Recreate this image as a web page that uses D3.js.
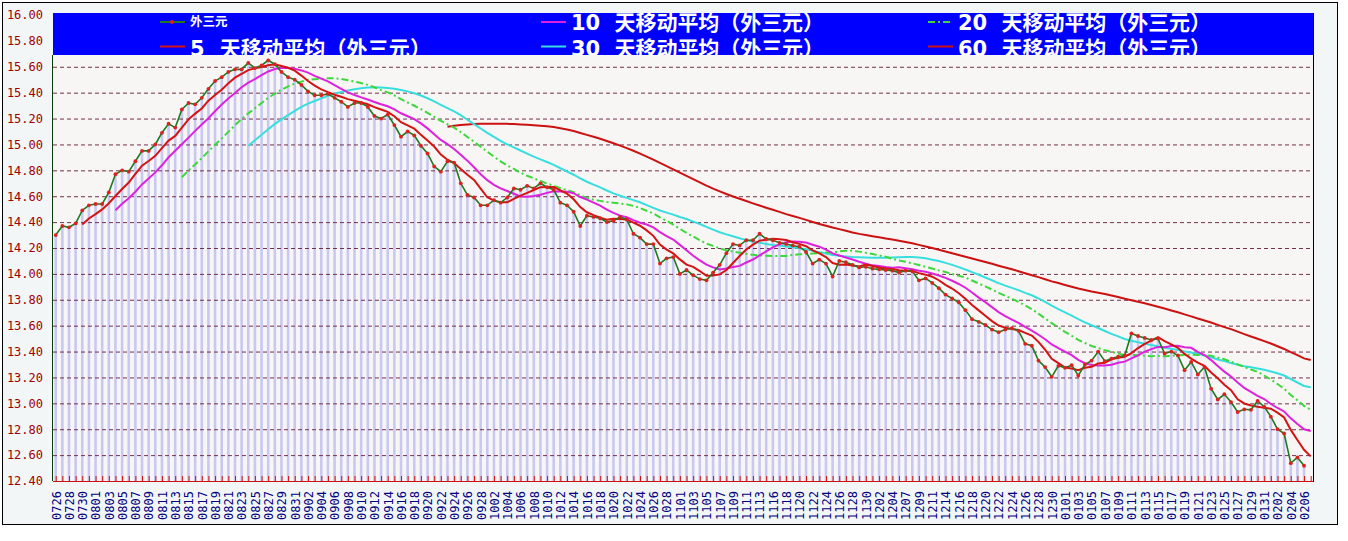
<!DOCTYPE html>
<html>
<head>
<meta charset="utf-8">
<script src="https://cdn.jsdelivr.net/npm/d3@7"></script>
<style>
  body { margin: 0; background: #fff; }
  svg { display: block; }
</style>
</head>
<body>
<svg id="chart" width="1348" height="541"></svg>
<script>
// ---- data ----
const categories = [
  '0726','0727','0728','0729','0730','0731','0801','0802','0803','0804',
  '0805','0806','0807','0808','0809','0810','0811','0812','0813','0814',
  '0815','0816','0817','0818','0819','0820','0821','0822','0823','0824',
  '0825','0826','0827','0828','0829','0830','0831','0901','0902','0903',
  '0904','0905','0906','0907','0908','0909','0910','0911','0912','0913',
  '0914','0915','0916','0917','0918','0919','0920','0921','0922','0923',
  '0924','0925','0926','0927','0928','0930','1002','1003','1004','1005',
  '1006','1007','1008','1009','1010','1011','1012','1013','1014','1015',
  '1016','1017','1018','1019','1020','1021','1022','1023','1024','1025',
  '1026','1027','1028','1030','1101','1102','1103','1104','1105','1106',
  '1107','1108','1109','1110','1111','1112','1113','1115','1116','1117',
  '1118','1119','1120','1121','1122','1123','1124','1125','1126','1127',
  '1128','1129','1130','1201','1202','1203','1204','1206','1207','1208',
  '1209','1210','1211','1212','1214','1215','1216','1217','1218','1219',
  '1220','1221','1222','1223','1224','1225','1226','1227','1228','1229',
  '1230','1231','0101','0102','0103','0104','0105','0106','0107','0108',
  '0109','0110','0111','0112','0113','0114','0115','0116','0117','0118',
  '0119','0120','0121','0122','0123','0124','0125','0126','0127','0128',
  '0129','0130','0131','0201','0202','0203','0204','0205','0206','0207'
];

// 外三元 daily price (last category has no price point)
const price = [
  14.30, 14.37, 14.36, 14.39, 14.49, 14.53, 14.54, 14.54, 14.63, 14.77,
  14.80, 14.79, 14.87, 14.95, 14.95, 15.00, 15.09, 15.16, 15.13, 15.27,
  15.32, 15.31, 15.36, 15.43, 15.49, 15.52, 15.56, 15.58, 15.58, 15.63,
  15.59, 15.61, 15.65, 15.62, 15.56, 15.52, 15.50, 15.46, 15.41, 15.38,
  15.38, 15.39, 15.36, 15.33, 15.29, 15.32, 15.32, 15.29, 15.22, 15.20,
  15.23, 15.15, 15.06, 15.10, 15.07, 14.99, 14.93, 14.83, 14.79, 14.87,
  14.86, 14.70, 14.61, 14.59, 14.53, 14.53, 14.57, 14.55, 14.59, 14.66,
  14.65, 14.68, 14.66, 14.70, 14.67, 14.65, 14.55, 14.53, 14.48, 14.37,
  14.45, 14.44, 14.43, 14.40, 14.41, 14.44, 14.42, 14.31, 14.28, 14.23,
  14.23, 14.08, 14.12, 14.13, 14.00, 14.03, 13.99, 13.96, 13.95, 14.01,
  14.07, 14.16, 14.23, 14.22, 14.26, 14.26, 14.31, 14.27, 14.26, 14.24,
  14.23, 14.22, 14.21, 14.17, 14.08, 14.11, 14.08, 13.98, 14.10, 14.09,
  14.07, 14.05, 14.055, 14.04, 14.035, 14.03, 14.025, 14.01, 14.025, 14.02,
  13.95, 13.965, 13.93, 13.89, 13.84, 13.81, 13.78, 13.72, 13.65, 13.63,
  13.605, 13.57, 13.55, 13.57, 13.58, 13.56, 13.46, 13.445, 13.33, 13.28,
  13.205, 13.29, 13.275, 13.295, 13.215, 13.30, 13.33, 13.40, 13.326, 13.346,
  13.36, 13.37, 13.54, 13.52, 13.505, 13.49, 13.50, 13.385, 13.40, 13.37,
  13.256, 13.32, 13.223, 13.28, 13.113, 13.03, 13.07, 13.01, 12.933, 12.954,
  12.95, 13.018, 12.974, 12.897, 12.80, 12.767, 12.538, 12.582, 12.518, null
];

// moving-average lines, each starting at the category index given
const ma5Start = 4;
const ma5 = [
  14.382, 14.428, 14.462, 14.498, 14.546, 14.602, 14.656, 14.706, 14.772, 14.836,
  14.872, 14.912, 14.972, 15.030, 15.066, 15.130, 15.194, 15.238, 15.278, 15.338,
  15.382, 15.422, 15.472, 15.516, 15.546, 15.574, 15.588, 15.598, 15.612, 15.620,
  15.606, 15.592, 15.570, 15.532, 15.490, 15.454, 15.426, 15.404, 15.384, 15.368,
  15.350, 15.338, 15.324, 15.310, 15.288, 15.270, 15.252, 15.218, 15.172, 15.148,
  15.122, 15.074, 15.030, 14.984, 14.922, 14.882, 14.856, 14.810, 14.766, 14.726,
  14.658, 14.592, 14.566, 14.554, 14.554, 14.580, 14.604, 14.626, 14.648, 14.670,
  14.672, 14.672, 14.646, 14.620, 14.576, 14.516, 14.476, 14.454, 14.434, 14.418,
  14.426, 14.424, 14.420, 14.396, 14.372, 14.336, 14.294, 14.226, 14.188, 14.158,
  14.112, 14.072, 14.054, 14.022, 13.986, 13.988, 13.996, 14.030, 14.084, 14.138,
  14.188, 14.226, 14.256, 14.264, 14.272, 14.268, 14.262, 14.244, 14.232, 14.214,
  14.182, 14.158, 14.130, 14.084, 14.070, 14.072, 14.064, 14.058, 14.073, 14.061,
  14.050, 14.042, 14.037, 14.028, 14.025, 14.022, 14.006, 13.994, 13.978, 13.951,
  13.915, 13.887, 13.850, 13.808, 13.760, 13.718, 13.677, 13.635, 13.601, 13.585,
  13.575, 13.566, 13.544, 13.523, 13.475, 13.415, 13.344, 13.310, 13.276, 13.269,
  13.256, 13.275, 13.283, 13.308, 13.314, 13.340, 13.352, 13.360, 13.388, 13.427,
  13.459, 13.485, 13.511, 13.480, 13.456, 13.429, 13.382, 13.346, 13.314, 13.290,
  13.238, 13.193, 13.143, 13.101, 13.031, 12.999, 12.983, 12.973, 12.966, 12.959,
  12.928, 12.891, 12.795, 12.717, 12.641, 12.590
];

const ma10Start = 9;
const ma10 = [
  14.492, 14.542, 14.584, 14.635, 14.691, 14.737, 14.784, 14.839, 14.901, 14.951,
  15.001, 15.053, 15.105, 15.154, 15.202, 15.256, 15.308, 15.355, 15.397, 15.442,
  15.478, 15.505, 15.535, 15.564, 15.583, 15.590, 15.590, 15.584, 15.572, 15.555,
  15.530, 15.509, 15.487, 15.458, 15.429, 15.402, 15.382, 15.364, 15.347, 15.328,
  15.310, 15.295, 15.271, 15.241, 15.218, 15.196, 15.163, 15.124, 15.078, 15.035,
  15.002, 14.965, 14.920, 14.875, 14.824, 14.770, 14.724, 14.688, 14.660, 14.640,
  14.619, 14.598, 14.596, 14.601, 14.612, 14.626, 14.638, 14.636, 14.634, 14.623,
  14.594, 14.574, 14.550, 14.527, 14.497, 14.471, 14.450, 14.437, 14.415, 14.395,
  14.381, 14.359, 14.323, 14.292, 14.265, 14.224, 14.183, 14.140, 14.105, 14.072,
  14.050, 14.034, 14.042, 14.053, 14.062, 14.088, 14.111, 14.143, 14.174, 14.205,
  14.228, 14.244, 14.250, 14.248, 14.243, 14.225, 14.210, 14.187, 14.158, 14.142,
  14.127, 14.111, 14.094, 14.079, 14.066, 14.061, 14.053, 14.048, 14.051, 14.043,
  14.036, 14.024, 14.016, 14.003, 13.988, 13.969, 13.947, 13.922, 13.893, 13.856,
  13.817, 13.782, 13.743, 13.705, 13.673, 13.647, 13.622, 13.590, 13.562, 13.530,
  13.495, 13.455, 13.427, 13.400, 13.372, 13.336, 13.310, 13.297, 13.292, 13.292,
  13.298, 13.314, 13.322, 13.348, 13.371, 13.400, 13.419, 13.436, 13.434, 13.442,
  13.444, 13.434, 13.429, 13.397, 13.373, 13.334, 13.288, 13.245, 13.207, 13.161,
  13.119, 13.088, 13.058, 13.033, 12.995, 12.964, 12.937, 12.884, 12.841, 12.800,
  12.785
];

const ma20Start = 19;
const ma20 = [
  14.747, 14.798, 14.845, 14.895, 14.947, 14.997, 15.046, 15.097, 15.149, 15.197,
  15.240, 15.279, 15.320, 15.359, 15.393, 15.423, 15.449, 15.470, 15.485, 15.499,
  15.504, 15.507, 15.511, 15.511, 15.506, 15.496, 15.486, 15.474, 15.460, 15.442,
  15.420, 15.402, 15.379, 15.350, 15.324, 15.299, 15.273, 15.244, 15.213, 15.182,
  15.156, 15.130, 15.096, 15.058, 15.021, 14.983, 14.944, 14.906, 14.869, 14.838,
  14.811, 14.782, 14.758, 14.738, 14.718, 14.698, 14.681, 14.662, 14.647, 14.632,
  14.607, 14.586, 14.573, 14.564, 14.555, 14.549, 14.544, 14.537, 14.525, 14.509,
  14.488, 14.467, 14.437, 14.410, 14.381, 14.348, 14.317, 14.289, 14.260, 14.234,
  14.216, 14.197, 14.183, 14.173, 14.164, 14.156, 14.147, 14.142, 14.140, 14.139,
  14.139, 14.139, 14.146, 14.151, 14.153, 14.157, 14.161, 14.165, 14.166, 14.174,
  14.178, 14.178, 14.172, 14.163, 14.154, 14.143, 14.132, 14.117, 14.104, 14.093,
  14.082, 14.068, 14.055, 14.041, 14.027, 14.015, 14.000, 13.985, 13.972, 13.949,
  13.926, 13.903, 13.879, 13.854, 13.830, 13.808, 13.784, 13.756, 13.728, 13.693,
  13.656, 13.619, 13.585, 13.552, 13.522, 13.491, 13.466, 13.443, 13.427, 13.411,
  13.397, 13.384, 13.374, 13.374, 13.371, 13.368, 13.364, 13.366, 13.363, 13.367,
  13.371, 13.374, 13.375, 13.373, 13.372, 13.367, 13.353, 13.340, 13.321, 13.301,
  13.281, 13.261, 13.243, 13.215, 13.184, 13.149, 13.113, 13.064, 13.024, 12.980,
  12.950
];

const ma30Start = 29;
const ma30 = [
  14.990, 15.033, 15.075, 15.118, 15.159, 15.194, 15.227, 15.259, 15.290, 15.316,
  15.336, 15.356, 15.376, 15.392, 15.405, 15.416, 15.427, 15.434, 15.439, 15.442,
  15.439, 15.436, 15.431, 15.421, 15.410, 15.396, 15.378, 15.357, 15.332, 15.306,
  15.281, 15.256, 15.226, 15.191, 15.157, 15.123, 15.090, 15.059, 15.028, 15.001,
  14.977, 14.953, 14.929, 14.906, 14.885, 14.864, 14.842, 14.816, 14.791, 14.766,
  14.738, 14.712, 14.689, 14.668, 14.644, 14.622, 14.604, 14.587, 14.570, 14.553,
  14.531, 14.510, 14.490, 14.473, 14.458, 14.440, 14.424, 14.404, 14.385, 14.363,
  14.342, 14.322, 14.305, 14.291, 14.275, 14.261, 14.248, 14.240, 14.231, 14.224,
  14.220, 14.212, 14.205, 14.198, 14.190, 14.179, 14.168, 14.157, 14.146, 14.140,
  14.135, 14.130, 14.129, 14.127, 14.124, 14.125, 14.125, 14.126, 14.128, 14.130,
  14.130, 14.126, 14.120, 14.110, 14.099, 14.085, 14.070, 14.052, 14.034, 14.014,
  13.993, 13.972, 13.951, 13.929, 13.909, 13.892, 13.874, 13.853, 13.835, 13.810,
  13.783, 13.754, 13.728, 13.702, 13.678, 13.650, 13.626, 13.603, 13.582, 13.559,
  13.537, 13.517, 13.497, 13.484, 13.472, 13.461, 13.450, 13.441, 13.429, 13.421,
  13.412, 13.401, 13.392, 13.382, 13.372, 13.356, 13.339, 13.326, 13.311, 13.298,
  13.287, 13.279, 13.269, 13.259, 13.246, 13.232, 13.215, 13.188, 13.161, 13.134,
  13.125
];

const ma60Start = 59;
const ma60 = [
  15.136, 15.145, 15.150, 15.155, 15.158, 15.159, 15.159, 15.159, 15.159, 15.159,
  15.157, 15.154, 15.152, 15.149, 15.145, 15.140, 15.134, 15.125, 15.115, 15.104,
  15.089, 15.074, 15.060, 15.044, 15.027, 15.009, 14.991, 14.972, 14.951, 14.929,
  14.906, 14.883, 14.858, 14.832, 14.808, 14.782, 14.757, 14.732, 14.707, 14.682,
  14.659, 14.638, 14.617, 14.598, 14.580, 14.563, 14.545, 14.528, 14.511, 14.495,
  14.479, 14.462, 14.447, 14.433, 14.417, 14.401, 14.386, 14.372, 14.358, 14.346,
  14.333, 14.320, 14.309, 14.300, 14.291, 14.283, 14.274, 14.265, 14.256, 14.247,
  14.236, 14.224, 14.212, 14.200, 14.187, 14.173, 14.159, 14.146, 14.133, 14.119,
  14.106, 14.092, 14.078, 14.063, 14.049, 14.036, 14.021, 14.005, 13.990, 13.975,
  13.959, 13.942, 13.929, 13.914, 13.901, 13.887, 13.875, 13.864, 13.855, 13.845,
  13.833, 13.822, 13.808, 13.797, 13.785, 13.773, 13.760, 13.746, 13.732, 13.717,
  13.703, 13.687, 13.672, 13.655, 13.640, 13.624, 13.606, 13.589, 13.573, 13.554,
  13.535, 13.516, 13.499, 13.481, 13.462, 13.441, 13.420, 13.395, 13.372, 13.347,
  13.335
];

const yTicks = [12.40, 12.60, 12.80, 13.00, 13.20, 13.40, 13.60, 13.80, 14.00, 14.20,
                14.40, 14.60, 14.80, 15.00, 15.20, 15.40, 15.60, 15.80, 16.00];

const seriesNames = [
  '外三元',
  '5  天移动平均（外三元）',
  '10  天移动平均（外三元）',
  '20  天移动平均（外三元）',
  '30  天移动平均（外三元）',
  '60  天移动平均（外三元）'
];

// ---- layout & style ----
const W = 1348, H = 541;
const P = { left: 53, right: 1313, top: 13, bottom: 481, band: 55 };
const COL = {
  price: '#1f7a1f', dot: '#dd2020', bar: '#c8c8f2',
  ma5: '#d41414', ma10: '#dd22dd', ma20: '#3cd83c', ma30: '#38dede', ma60: '#cc1111'
};
const mono = '"DejaVu Sans Mono", "Liberation Mono", monospace';
// Latin font first keeps the text boxes compact; CJK glyphs fall back to Noto
const legendFont = '"DejaVu Sans", "Noto Sans CJK SC", sans-serif';

const svg = d3.select('#chart').attr('viewBox', `0 0 ${W} ${H}`);

const x = d3.scaleLinear().domain([0, categories.length - 1]).range([55.7, 1310.7]);
const y = d3.scaleLinear().domain([12.4, 16]).range([P.bottom, 15]);

// frame + plot background
svg.append('rect').attr('width', W).attr('height', H).attr('fill', '#fff');
svg.append('rect').attr('x', 2.5).attr('y', 2.5).attr('width', 1335).attr('height', 522)
  .attr('fill', '#f3f6f6').attr('stroke', '#000');
svg.append('rect').attr('x', P.left).attr('y', P.top)
  .attr('width', P.right - P.left).attr('height', P.bottom - P.top)
  .attr('fill', '#f8f6f5');

// 1. bars under the price
const pts = price.map((v, i) => ({ i, v })).filter(d => d.v != null);
svg.append('g').selectAll('rect').data(pts).join('rect')
  .attr('x', d => x(d.i) - 1.3)
  .attr('width', 2.6)
  .attr('y', d => y(d.v))
  .attr('height', d => y(12.4) - y(d.v))
  .attr('fill', COL.bar);

// 2. gridlines
svg.append('g')
  .attr('transform', `translate(${P.left},0)`)
  .call(d3.axisLeft(y).tickValues(yTicks.filter(v => v > 12.5 && v < 15.7))
    .tickSize(-(P.right - P.left)).tickFormat(''))
  .call(g => g.select('.domain').remove())
  .call(g => g.selectAll('line').attr('stroke', '#74304e').attr('stroke-dasharray', '4,3'));

// 3. y labels
svg.append('g')
  .attr('transform', 'translate(43,0)')
  .call(d3.axisLeft(y).tickValues(yTicks).tickSize(0).tickPadding(0).tickFormat(d3.format('.2f')))
  .call(g => g.select('.domain').remove())
  .call(g => g.selectAll('text').attr('fill', '#a00000')
    .style('font-family', mono).style('font-size', '12px'));

// 4. x axis: red baseline with a tick per category, labels every other one
svg.append('line').attr('x1', P.left).attr('x2', P.right)
  .attr('y1', P.bottom + 0.5).attr('y2', P.bottom + 0.5).attr('stroke', '#d01010');
svg.append('g')
  .attr('transform', `translate(0,${P.bottom})`)
  .call(d3.axisBottom(x).tickValues(d3.range(categories.length)).tickSize(-5).tickFormat(''))
  .call(g => g.select('.domain').remove())
  .call(g => g.selectAll('line').attr('stroke', '#d01010'));
svg.append('g')
  .attr('transform', `translate(0,${P.bottom})`)
  .call(d3.axisBottom(x).tickValues(d3.range(0, categories.length, 2))
    .tickSize(0).tickFormat(i => categories[i]))
  .call(g => g.select('.domain').remove())
  .call(g => g.selectAll('text')
    .attr('transform', 'rotate(-90)')
    .attr('text-anchor', 'start')
    .attr('x', -39).attr('y', 0).attr('dy', '0.36em')
    .attr('fill', '#000080')
    .style('font-family', mono).style('font-size', '12px'));

// axis lines
svg.append('line').attr('x1', 52.5).attr('x2', 52.5).attr('y1', P.band).attr('y2', P.bottom)
  .attr('stroke', '#0b3d0b');
svg.append('line').attr('x1', P.right + 0.5).attr('x2', P.right + 0.5).attr('y1', P.top).attr('y2', P.bottom + 1)
  .attr('stroke', '#000');

// 5. moving averages
const maSeries = [
  { values: ma60, start: ma60Start, color: COL.ma60, dash: null },
  { values: ma30, start: ma30Start, color: COL.ma30, dash: null },
  { values: ma20, start: ma20Start, color: COL.ma20, dash: '7,3,2,3' },
  { values: ma10, start: ma10Start, color: COL.ma10, dash: null },
  { values: ma5, start: ma5Start, color: COL.ma5, dash: null }
];
maSeries.forEach(s => {
  const line = d3.line().x((d, k) => x(s.start + k)).y(d => y(d));
  svg.append('path').datum(s.values)
    .attr('d', line)
    .attr('fill', 'none')
    .attr('stroke', s.color)
    .attr('stroke-width', 2)
    .attr('stroke-dasharray', s.dash);
});

// 6. price line with red markers
svg.append('path').datum(pts)
  .attr('d', d3.line().x(d => x(d.i)).y(d => y(d.v)))
  .attr('fill', 'none').attr('stroke', COL.price).attr('stroke-width', 1.6);
svg.append('g').selectAll('circle').data(pts).join('circle')
  .attr('cx', d => x(d.i)).attr('cy', d => y(d.v)).attr('r', 1.9)
  .attr('fill', COL.dot);

// 7. legend band
svg.append('defs').append('clipPath').attr('id', 'bandclip')
  .append('rect').attr('x', P.left).attr('y', P.top).attr('width', P.right - P.left).attr('height', P.band - P.top);
svg.append('rect').attr('x', P.left).attr('y', P.top)
  .attr('width', P.right - P.left).attr('height', P.band - P.top).attr('fill', '#0000ff');

const leg = svg.append('g').attr('clip-path', 'url(#bandclip)');
const legCols = [160, 541, 928];
const legRows = [22, 46.5];
const legendItems = [
  { name: seriesNames[0], col: 0, row: 0, color: COL.price, small: true },
  { name: seriesNames[2], col: 1, row: 0, color: COL.ma10 },
  { name: seriesNames[3], col: 2, row: 0, color: COL.ma20, dash: '7,3,2,3' },
  { name: seriesNames[1], col: 0, row: 1, color: COL.ma5 },
  { name: seriesNames[4], col: 1, row: 1, color: COL.ma30 },
  { name: seriesNames[5], col: 2, row: 1, color: COL.ma60 }
];
legendItems.forEach(it => {
  const lx = legCols[it.col], ly = legRows[it.row];
  leg.append('line').attr('x1', lx).attr('x2', lx + 25).attr('y1', ly).attr('y2', ly)
    .attr('stroke', it.color).attr('stroke-width', 2).attr('stroke-dasharray', it.dash || null);
  if (it.small) {
    leg.append('circle').attr('cx', lx + 12).attr('cy', ly).attr('r', 2).attr('fill', COL.dot);
    leg.append('text').attr('x', lx + 30).attr('y', ly + 4)
      .attr('fill', '#fff').style('font-family', legendFont).style('font-size', '12.5px')
      .style('font-weight', 'bold').text(it.name);
  } else {
    leg.append('text').attr('x', lx + 30).attr('y', it.row === 0 ? 30 : 55.5)
      .attr('fill', '#fff').style('font-family', legendFont).style('font-size', '21px')
      .style('font-weight', 'bold').style('white-space', 'pre')
      .attr('textLength', it.col === 0 ? 241 : 253).attr('lengthAdjust', 'spacing')
      .text(it.name);
  }
});
</script>
</body>
</html>
